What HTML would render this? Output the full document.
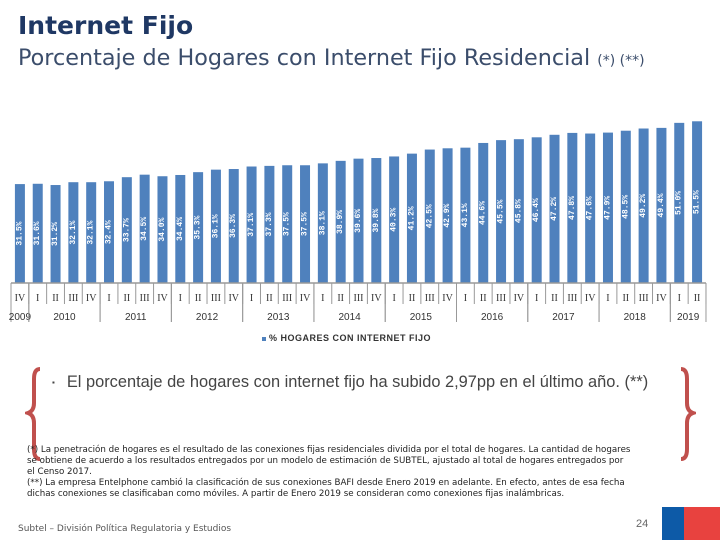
<!DOCTYPE html>
<html><head><meta charset="utf-8"><style>
body{margin:0;width:720px;height:540px;background:#fff;font-family:"Liberation Sans",sans-serif;position:relative;overflow:hidden}
.abs{position:absolute}
</style></head><body>
<div class="abs" style="left:18px;top:11px;font-family:'DejaVu Sans',sans-serif;font-size:25px;font-weight:bold;color:#1f3864">Internet Fijo</div>
<div class="abs" style="left:18px;top:45px;font-family:'DejaVu Sans',sans-serif;font-size:22.3px;color:#3b4d6b;white-space:nowrap">Porcentaje de Hogares con Internet Fijo Residencial <span style="font-size:14px">(*) (**)</span></div>
<svg class="abs" style="left:0;top:0" width="720" height="350" id="chart"></svg>
<div class="abs" style="left:262px;top:333px;font-size:9px;font-weight:bold;color:#333;letter-spacing:0.5px;white-space:nowrap"><span style="display:inline-block;width:4px;height:4px;background:#4f81bd;margin-right:3px;vertical-align:middle"></span>% HOGARES CON INTERNET FIJO</div>
<svg class="abs" style="left:25px;top:365px" width="20" height="100"><path d="M15,4 Q9,4 9,14 L9,38 Q9,46 3,48 Q9,50 9,58 L9,84 Q9,94 15,94" fill="none" stroke="#c0504d" stroke-width="4"/></svg>
<svg class="abs" style="left:676px;top:365px" width="20" height="100"><path d="M5,4 Q11,4 11,14 L11,38 Q11,46 17,48 Q11,50 11,58 L11,84 Q11,94 5,94" fill="none" stroke="#c0504d" stroke-width="4"/></svg>
<div class="abs" style="left:52px;top:373px;font-size:16.4px;color:#444;white-space:nowrap"><span style="font-size:8px;vertical-align:middle;margin-right:12px">▪</span>El porcentaje de hogares con internet fijo ha subido 2,97pp en el último año. (**)</div>
<div class="abs" style="left:27px;top:445px;width:605px;font-family:'DejaVu Sans',sans-serif;font-size:8.7px;line-height:11px;color:#222">(*) La penetración de hogares es el resultado de las conexiones fijas residenciales dividida por el total de hogares. La cantidad de hogares se obtiene de acuerdo a los resultados entregados por un modelo de estimación de SUBTEL, ajustado al total de hogares entregados por el Censo 2017.<br>(**) La empresa Entelphone cambió la clasificación de sus conexiones BAFI desde Enero 2019 en adelante. En efecto, antes de esa fecha dichas conexiones se clasificaban como móviles. A partir de Enero 2019 se consideran como conexiones fijas inalámbricas.</div>
<div class="abs" style="left:18px;top:524px;font-family:'DejaVu Sans',sans-serif;font-size:9px;color:#555">Subtel – División Política Regulatoria y Estudios</div>
<div class="abs" style="left:636px;top:518px;font-size:11px;color:#666">24</div>
<div class="abs" style="left:662px;top:507px;width:22px;height:33px;background:#0d5aa7"></div>
<div class="abs" style="left:684px;top:507px;width:36px;height:33px;background:#e8423f"></div>
<script>
const quarters=["IV","I","II","III","IV","I","II","III","IV","I","II","III","IV","I","II","III","IV","I","II","III","IV","I","II","III","IV","I","II","III","IV","I","II","III","IV","I","II","III","IV","I","II"];
const values=[31.5,31.6,31.2,32.1,32.1,32.4,33.7,34.5,34.0,34.4,35.3,36.1,36.3,37.1,37.3,37.5,37.5,38.1,38.9,39.6,39.8,40.3,41.2,42.5,42.9,43.1,44.6,45.5,45.8,46.4,47.2,47.8,47.6,47.9,48.5,49.2,49.4,51.0,51.5];
const years=["2009","2010","2011","2012","2013","2014","2015","2016","2017","2018","2019"];
const yearCounts=[1,4,4,4,4,4,4,4,4,4,2];
const svg=document.getElementById('chart');
const NS="http://www.w3.org/2000/svg";
const x0=11,step=17.82,base=283,k=3.14,bw=10;
const xC=i=>x0+step*i+step/2;
const yS=v=>base-v*k;
function mk(t,a){const e=document.createElementNS(NS,t);for(const n in a)e.setAttribute(n,a[n]);svg.appendChild(e);return e;}
values.forEach((v,i)=>{
 const r=mk('rect',{x:xC(i)-bw/2,y:yS(v),width:bw,height:base-yS(v),fill:'#4f81bd'});
 
 
 const cy=(yS(v)+base)/2;
 const t=mk('text',{x:xC(i),y:cy,fill:'#fff','font-size':'8','font-weight':'bold','text-anchor':'middle','dominant-baseline':'central',transform:`rotate(-90 ${xC(i)} ${cy})`,'font-family':'Liberation Mono, monospace'});
 t.textContent=v.toFixed(1)+'%';
 
 
 const q=mk('text',{x:xC(i),y:301,fill:'#333','font-size':'10','text-anchor':'middle','font-family':'Liberation Serif, serif'});
 q.textContent=quarters[i];
 
 
});
const ax=mk('line',{x1:x0,x2:x0+step*values.length,y1:base,y2:base,stroke:'#999','stroke-width':1.5});


for(let i=0;i<=values.length;i++){
 mk('line',{x1:x0+step*i,x2:x0+step*i,y1:base,y2:304,stroke:'#999','stroke-width':1});
}
let idx=0;
years.forEach((y,j)=>{
 const s=x0+step*idx,e=x0+step*(idx+yearCounts[j]);
 mk('line',{x1:s,x2:s,y1:base,y2:322,stroke:'#999','stroke-width':1});
 mk('line',{x1:e,x2:e,y1:base,y2:322,stroke:'#999','stroke-width':1});
 const t=mk('text',{x:(s+e)/2,y:320,fill:'#333','font-size':'10','text-anchor':'middle'});
 t.textContent=y;
 
 
 idx+=yearCounts[j];
});
</script>
</body></html>
